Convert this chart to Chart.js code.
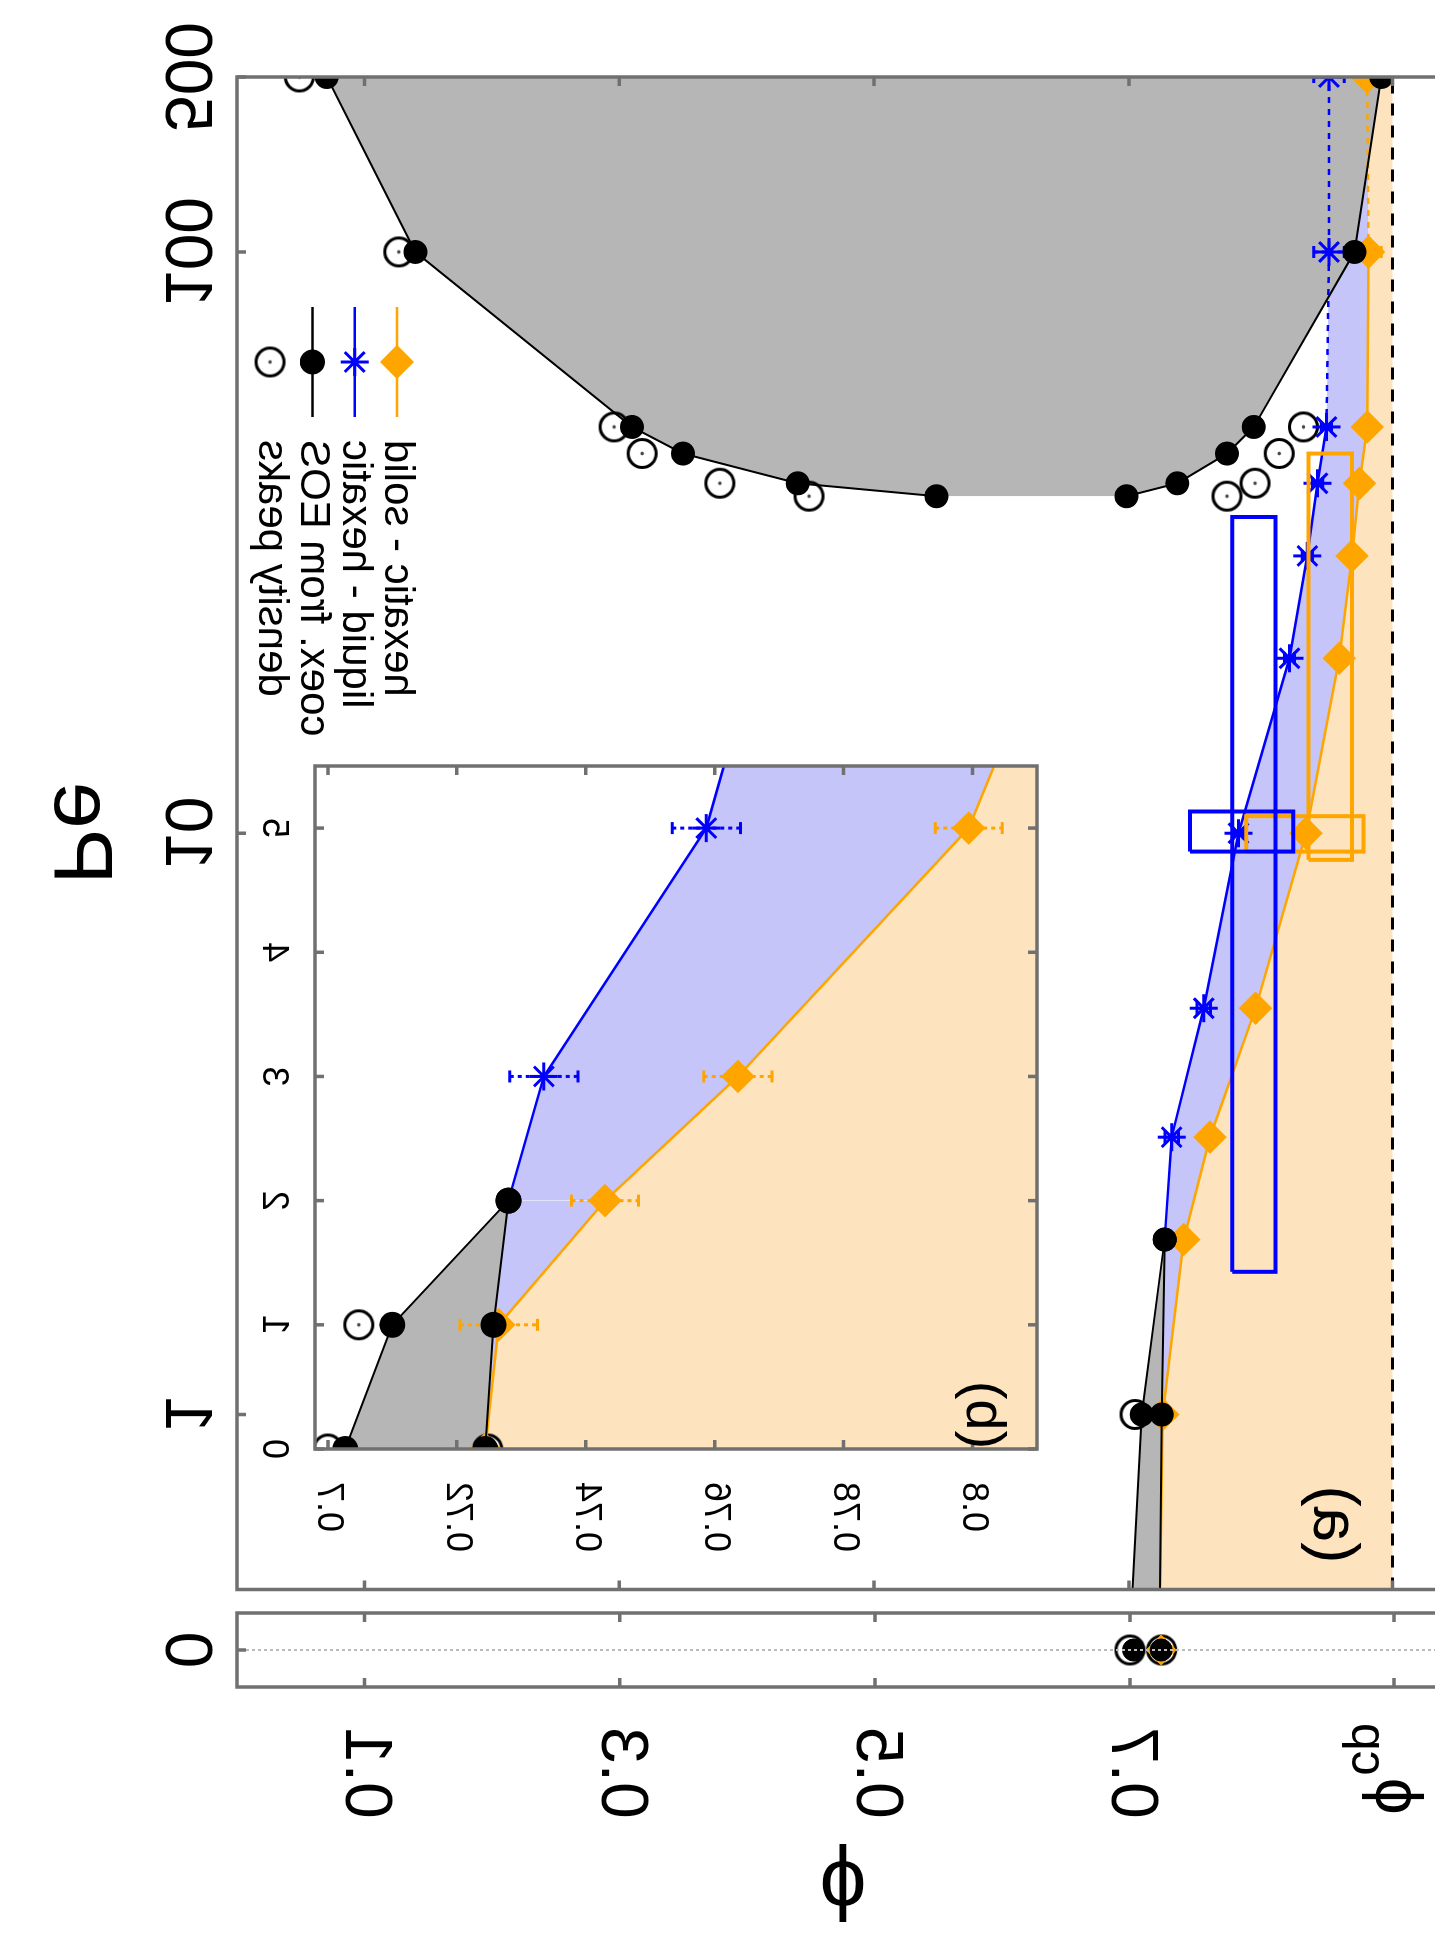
<!DOCTYPE html>
<html>
<head>
<meta charset="utf-8">
<script src="https://cdn.jsdelivr.net/npm/chart.js@4.4.0/dist/chart.umd.min.js"></script>
<style>
html, body { margin: 0; padding: 0; width: 1435px; height: 1937px; overflow: hidden; background: #fff; }
/* the figure is drawn upright and then mirrored across the anti-diagonal, as in the reference */
#fig { position: absolute; left: 0; top: 0; width: 1937px; height: 1435px; overflow: hidden;
       transform-origin: 0 0; transform: matrix(0, -1, -1, 0, 1435, 1937); }
#fig canvas { position: absolute; }
</style>
</head>
<body>
<div id="fig">
  <canvas id="pe0" width="340" height="1465" style="left:0px;top:-30px"></canvas>
  <canvas id="main" width="1607" height="1465" style="left:330px;top:-30px"></canvas>
  <canvas id="inset" width="820" height="900" style="left:380px;top:330px"></canvas>
</div>
<script>
// ---- data (x = Pe, y = phi) ----
const peSeries = [0, 1, 2, 3, 5, 10, 20, 30, 40, 50, 100, 500];
const phiHexSolid = [0.7244, 0.7265, 0.743, 0.7636, 0.7994, 0.839, 0.865, 0.875, 0.881, 0.887, 0.888, 0.887];
const errHexSolid = [0, 0.006, 0.0052, 0.0053, 0.0052, 0.004, 0.003, 0.003, 0.003, 0.003, 0.01, 0.008];
const phiLiqHex = [0.7244, 0.7257, 0.728, 0.7335, 0.7587, 0.786, 0.826, 0.840, 0.848, 0.855, 0.857, 0.857];
const errLiqHex = [0, 0, 0, 0.0053, 0.0053, 0.004, 0.004, 0.004, 0.004, 0.004, 0.012, 0.012];

const peCoexLow = [0, 1, 2];
const phiCoexGasLow = [0.7027, 0.710, 0.728];
const phiCoexLiqLow = [0.7244, 0.7257, 0.728];
const peMips = [38, 40, 45, 50, 100, 500];
const phiMipsGas = [0.549, 0.440, 0.350, 0.310, 0.140, 0.0705];
const phiMipsDense = [0.698, 0.738, 0.777, 0.798, 0.877, 0.898];

const pePeaksGas = [0, 1, 38, 40, 45, 50, 100, 500];
const phiPeaksGas = [0.700, 0.7048, 0.449, 0.379, 0.318, 0.296, 0.127, 0.049];
const pePeaksDense = [0, 38, 40, 45, 50];
const phiPeaksDense = [0.7248, 0.777, 0.799, 0.818, 0.837];

// boxes: [phi min, phi max, Pe min, Pe max]
const boxesLiqHex = [[0.781, 0.815, 1.76, 35], [0.748, 0.829, 9.3, 10.9]];
const boxesHexSolid = [[0.841, 0.875, 9.0, 45], [0.792, 0.884, 9.3, 10.7]];

const phiCp = 0.9069;
const phiTicks = [0.1, 0.3, 0.5, 0.7, phiCp];
const phiTickLabels = ['0.1', '0.3', '0.5', '0.7', ''];
const peTicks = [1, 10, 100, 500];
const insetPeTicks = [0, 1, 2, 3, 4, 5];
const insetPhiTicks = [0.7, 0.72, 0.74, 0.76, 0.78, 0.8];

// ---- helpers ----
const FONT = '"Liberation Sans", Arial, Helvetica, sans-serif';
Chart.defaults.font.family = FONT;
Chart.defaults.color = '#000';
const orange = '#ffa500', blue = '#0000ff';
const fillOrange = '#fde4bf', fillBlue = '#c5c5fa', fillGray = '#b6b6b6';

const peFloor = 0.5; // Pe = 0 rows meet the log axis at its lower end
const mainX = pe => {
  const p = Math.max(pe, peFloor);
  return p <= 100 ? Math.log10(p) : 2 + Math.log10(2) * (p - 100) / 400;
};
const linX = pe => pe;
const toPts = (pes, phis, fx) => pes.map((p, i) => ({ x: fx(p), y: phis[i] }));
const radii = (pes, r, test) => pes.map(p => test(p) ? r : 0);

function ringDot(r, lw) {
  const s = Math.ceil(2 * r + lw + 2);
  const c = document.createElement('canvas');
  c.width = c.height = s;
  const g = c.getContext('2d');
  g.beginPath(); g.arc(s / 2, s / 2, r, 0, Math.PI * 2);
  g.fillStyle = '#fff'; g.fill();
  g.lineWidth = lw; g.strokeStyle = '#000'; g.stroke();
  g.beginPath(); g.arc(s / 2, s / 2, 1.8, 0, Math.PI * 2);
  g.fillStyle = '#444'; g.fill();
  return c;
}
const ring = ringDot(14, 3);

function boxSets(boxes, color, fx) {
  return boxes.map(b => ({
    data: toPts([b[2], b[3], b[3], b[2], b[2]], [b[0], b[0], b[1], b[1], b[0]], fx),
    showLine: true, borderColor: color, borderWidth: 4, pointRadius: 0, fill: false, order: 1
  }));
}

// fixed axis sizes so the panels line up, no extra label padding
const fixH = h => s => { s.height = h; s.paddingLeft = 0; s.paddingRight = 0; };
const fixW = w => s => { s.width = w; s.paddingTop = 0; s.paddingBottom = 0; };

// ---- plugins ----
const framePlugin = {
  id: 'frame',
  beforeDraw(chart, args, o) {
    if (!o.background) return;
    const { ctx, chartArea: a } = chart;
    ctx.save(); ctx.fillStyle = o.background;
    ctx.fillRect(a.left, a.top, a.right - a.left, a.bottom - a.top);
    ctx.restore();
  },
  afterDatasetsDraw(chart, args, o) {
    const { ctx, chartArea: a, scales: { x, y } } = chart;
    ctx.save();
    if (o.zeroLine) {
      const px = x.getPixelForValue(0);
      ctx.strokeStyle = '#bbb'; ctx.lineWidth = 2; ctx.setLineDash([3, 3]);
      ctx.beginPath(); ctx.moveTo(px, a.top); ctx.lineTo(px, a.bottom); ctx.stroke();
      ctx.setLineDash([]);
    }
    ctx.strokeStyle = o.color; ctx.lineWidth = o.width;
    ctx.strokeRect(a.left, a.top, a.right - a.left, a.bottom - a.top);
    const t = o.tick;
    ctx.beginPath();
    x.ticks.forEach(k => {
      const px = x.getPixelForValue(k.value);
      ctx.moveTo(px, a.bottom); ctx.lineTo(px, a.bottom - t);
      ctx.moveTo(px, a.top); ctx.lineTo(px, a.top + t);
    });
    y.ticks.forEach(k => {
      const py = y.getPixelForValue(k.value);
      ctx.moveTo(a.left, py); ctx.lineTo(a.left + t, py);
      ctx.moveTo(a.right, py); ctx.lineTo(a.right - t, py);
    });
    ctx.stroke();
    ctx.restore();
  }
};

const errorBarPlugin = {
  id: 'errorBars',
  beforeDatasetsDraw(chart) {
    const { ctx, chartArea: a, scales: { x, y } } = chart;
    ctx.save();
    ctx.beginPath(); ctx.rect(a.left, a.top, a.right - a.left, a.bottom - a.top); ctx.clip();
    chart.data.datasets.forEach(ds => {
      if (!ds.errorBars) return;
      ctx.strokeStyle = ds.borderColor; ctx.lineWidth = 3;
      ds.data.forEach((p, j) => {
        const e = ds.errorBars[j];
        if (!e || !ds.pointRadius[j]) return;
        const px = x.getPixelForValue(p.x);
        const y1 = y.getPixelForValue(p.y - e), y2 = y.getPixelForValue(p.y + e);
        ctx.setLineDash([4, 4]);
        ctx.beginPath(); ctx.moveTo(px, y1); ctx.lineTo(px, y2); ctx.stroke();
        ctx.setLineDash([]);
        ctx.beginPath();
        ctx.moveTo(px - 6, y1); ctx.lineTo(px + 6, y1);
        ctx.moveTo(px - 6, y2); ctx.lineTo(px + 6, y2);
        ctx.stroke();
      });
    });
    ctx.restore();
  }
};

const labelPlugin = {
  id: 'panelLabel',
  afterDraw(chart, args, o) {
    if (!o.text) return;
    const { ctx, chartArea: a } = chart;
    ctx.save();
    ctx.font = o.size + 'px ' + FONT; ctx.fillStyle = '#000';
    ctx.textAlign = 'center'; ctx.textBaseline = 'middle';
    ctx.fillText(o.text, a.left + o.dx, a.top + o.dy);
    ctx.restore();
  }
};

const legendRows = [
  { text: 'hexatic - solid', color: orange, style: 'rectRot', r: 15, line: true },
  { text: 'liquid - hexatic', color: blue, style: 'star', r: 14, line: true },
  { text: 'coex. from EOS', color: '#000', style: 'circle', r: 11, line: true },
  { text: 'density peaks', color: '#000', style: ring, r: 14, line: false }
];
const keyPlugin = {
  id: 'key',
  afterDatasetsDraw(chart) {
    const { ctx, chartArea: a } = chart;
    ctx.save();
    ctx.font = '42px ' + FONT; ctx.textAlign = 'right'; ctx.textBaseline = 'middle';
    legendRows.forEach((row, i) => {
      const yy = a.bottom - 160 + i * 42.3;
      ctx.fillStyle = '#000';
      ctx.fillText(row.text, a.right - 363, yy);
      if (row.line) {
        ctx.strokeStyle = row.color; ctx.lineWidth = 2.5;
        ctx.beginPath(); ctx.moveTo(a.right - 340, yy); ctx.lineTo(a.right - 230, yy); ctx.stroke();
      }
      ctx.fillStyle = row.color; ctx.strokeStyle = row.color; ctx.lineWidth = 3;
      Chart.helpers.drawPoint(ctx, { pointStyle: row.style, radius: row.r, rotation: 0, borderWidth: 3 }, a.right - 285, yy);
    });
    ctx.restore();
  }
};

const cpPlugin = {
  id: 'cpLabel',
  afterDraw(chart) {
    const { ctx, scales: { y } } = chart;
    const py = y.getPixelForValue(phiCp);
    const right = y.right - 36;
    ctx.save();
    ctx.fillStyle = '#000'; ctx.textBaseline = 'middle'; ctx.textAlign = 'right';
    ctx.font = '50px ' + FONT;
    ctx.fillText('cp', right, py + 28);
    const w = ctx.measureText('cp').width;
    ctx.font = '66px ' + FONT;
    ctx.fillText('ϕ', right - w - 2, py);
    ctx.restore();
  }
};

const noGrid = { display: false, drawTicks: false };
const frameOpts = { color: '#707070', width: 3.5, tick: 9 };
const baseOpts = {
  responsive: false, animation: false, events: [],
  plugins: { legend: { display: false }, tooltip: { enabled: false }, filler: { drawTime: 'beforeDatasetsDraw' } }
};

// ---- main panel (log Pe) ----
const showMain = p => p > 0;
const mainSets = [
  { data: toPts(peSeries, peSeries.map(() => phiCp), mainX), showLine: true, borderColor: '#000',
    borderWidth: 3, borderDash: [12, 10], pointRadius: 0, order: 20 },
  { data: toPts(peSeries, phiHexSolid, mainX), showLine: true, borderColor: orange, borderWidth: 2.5,
    fill: { target: 0, above: fillOrange, below: fillOrange },
    pointStyle: 'rectRot', pointRadius: radii(peSeries, 15, showMain), pointBackgroundColor: orange,
    pointBorderColor: orange, errorBars: errHexSolid, order: 5,
    segment: { borderDash: c => c.p0DataIndex >= 10 ? [6, 6] : undefined } },
  { data: toPts(peSeries, phiLiqHex, mainX), showLine: true, borderColor: blue, borderWidth: 2.5,
    fill: { target: 1, above: fillBlue, below: fillBlue },
    pointStyle: 'star', pointRadius: radii(peSeries, 14, p => p >= 3), pointBorderColor: blue,
    pointBorderWidth: 3, errorBars: errLiqHex, order: 4,
    segment: { borderColor: c => c.p1DataIndex <= 2 ? 'rgba(0,0,0,0)' : undefined,
               borderDash: c => c.p0DataIndex >= 9 ? [6, 6] : undefined } },
  { data: toPts(peMips, phiMipsGas, mainX), showLine: true, borderColor: '#000', borderWidth: 2,
    fill: { target: 4, above: fillGray, below: fillGray },
    pointRadius: 11, pointBackgroundColor: '#000', pointBorderColor: '#000', order: 3 },
  { data: toPts(peMips, phiMipsDense, mainX), showLine: true, borderColor: '#000', borderWidth: 2,
    pointRadius: 11, pointBackgroundColor: '#000', pointBorderColor: '#000', order: 3 },
  { data: toPts(peCoexLow, phiCoexGasLow, mainX), showLine: true, borderColor: '#000', borderWidth: 2,
    fill: { target: 6, above: fillGray, below: fillGray },
    pointRadius: radii(peCoexLow, 11, showMain), pointBackgroundColor: '#000', pointBorderColor: '#000', order: 3 },
  { data: toPts(peCoexLow, phiCoexLiqLow, mainX), showLine: true, borderColor: '#000', borderWidth: 2,
    pointRadius: radii(peCoexLow, 11, showMain), pointBackgroundColor: '#000', pointBorderColor: '#000', order: 3 },
  { data: toPts(pePeaksGas, phiPeaksGas, mainX), pointStyle: ring, pointRadius: radii(pePeaksGas, 14, showMain), order: 6 },
  { data: toPts(pePeaksDense, phiPeaksDense, mainX), pointStyle: ring, pointRadius: radii(pePeaksDense, 14, showMain), order: 6 },
  ...boxSets(boxesLiqHex, blue, mainX),
  ...boxSets(boxesHexSolid, orange, mainX)
];

new Chart(document.getElementById('main'), {
  type: 'scatter',
  data: { datasets: mainSets },
  options: {
    ...baseOpts,
    layout: { padding: { left: 17, right: 77, top: 16, bottom: 0 } },
    plugins: { ...baseOpts.plugins, frame: frameOpts, panelLabel: { text: '(a)', size: 64, dx: 65, dy: 116 } },
    scales: {
      x: { type: 'linear', min: mainX(peFloor), max: mainX(500),
           afterBuildTicks: s => { s.ticks = peTicks.map(v => ({ value: mainX(v) })); },
           afterFit: fixH(237),
           grid: noGrid, border: { display: false },
           ticks: { font: { size: 66 }, padding: 13, maxRotation: 0, autoSkip: false,
                    callback: (v, i) => String(peTicks[i]) },
           title: { display: true, text: 'Pe', font: { size: 84 }, padding: { top: 28, bottom: 28 } } },
      y: { type: 'linear', min: 0, max: 0.95,
           afterBuildTicks: s => { s.ticks = phiTicks.map(v => ({ value: v })); },
           afterFit: fixW(0),
           grid: noGrid, border: { display: false }, ticks: { display: false } }
    }
  },
  plugins: [framePlugin, errorBarPlugin, labelPlugin, keyPlugin]
});

// ---- Pe = 0 panel ----
const at0 = (pes, phis) => pes.map((p, i) => ({ p, y: phis[i] })).filter(d => d.p === 0).map(d => ({ x: 0, y: d.y }));
new Chart(document.getElementById('pe0'), {
  type: 'scatter',
  data: { datasets: [
    { data: at0(peSeries, phiHexSolid), pointStyle: 'rectRot', pointRadius: 15, pointBackgroundColor: orange, pointBorderColor: orange, order: 5 },
    { data: at0(pePeaksGas, phiPeaksGas).concat(at0(pePeaksDense, phiPeaksDense)), pointStyle: ring, pointRadius: 14, order: 6 },
    { data: at0(peCoexLow, phiCoexGasLow).concat(at0(peCoexLow, phiCoexLiqLow)), pointRadius: 11,
      pointBackgroundColor: '#000', pointBorderColor: '#000', order: 3 }
  ] },
  options: {
    ...baseOpts,
    layout: { padding: { left: 0, right: 15, top: 16, bottom: 0 } },
    plugins: { ...baseOpts.plugins, frame: { ...frameOpts, zeroLine: true } },
    scales: {
      x: { type: 'linear', min: -1, max: 1,
           afterBuildTicks: s => { s.ticks = [{ value: 0 }]; },
           afterFit: fixH(237),
           grid: noGrid, border: { display: false },
           ticks: { font: { size: 66 }, padding: 13, maxRotation: 0, callback: () => '0' } },
      y: { type: 'linear', min: 0, max: 0.95,
           afterBuildTicks: s => { s.ticks = phiTicks.map(v => ({ value: v })); },
           afterFit: fixW(250),
           grid: noGrid, border: { display: false },
           ticks: { font: { size: 66 }, padding: 40, autoSkip: false, callback: (v, i) => phiTickLabels[i] },
           title: { display: true, text: 'ϕ', font: { size: 84 }, padding: { top: 2, bottom: 2 } } }
    }
  },
  plugins: [framePlugin, cpPlugin]
});

// ---- inset (linear Pe, zoom on low activity) ----
const inInset = p => p <= 5.5;
const insetPe = peSeries.filter(p => p <= 10);
const cut = arr => arr.slice(0, insetPe.length);
new Chart(document.getElementById('inset'), {
  type: 'scatter',
  data: { datasets: [
    { data: toPts(insetPe, cut(phiHexSolid), linX), showLine: true, borderColor: orange, borderWidth: 2.5,
      fill: { target: 'end', above: fillOrange, below: fillOrange },
      pointStyle: 'rectRot', pointRadius: radii(insetPe, 15, inInset), pointBackgroundColor: orange,
      pointBorderColor: orange, errorBars: cut(errHexSolid), order: 5 },
    { data: toPts(insetPe, cut(phiLiqHex), linX), showLine: true, borderColor: blue, borderWidth: 2.5,
      fill: { target: 0, above: fillBlue, below: fillBlue },
      pointStyle: 'star', pointRadius: radii(insetPe, 14, p => p >= 3 && p <= 5.5), pointBorderColor: blue,
      pointBorderWidth: 3, errorBars: cut(errLiqHex), order: 4,
      segment: { borderColor: c => c.p1DataIndex <= 2 ? 'rgba(0,0,0,0)' : undefined } },
    { data: toPts(peCoexLow, phiCoexGasLow, linX), showLine: true, borderColor: '#000', borderWidth: 2,
      fill: { target: 3, above: fillGray, below: fillGray },
      pointRadius: 12, pointBackgroundColor: '#000', pointBorderColor: '#000', order: 3 },
    { data: toPts(peCoexLow, phiCoexLiqLow, linX), showLine: true, borderColor: '#000', borderWidth: 2,
      pointRadius: 12, pointBackgroundColor: '#000', pointBorderColor: '#000', order: 3 },
    { data: toPts(pePeaksGas, phiPeaksGas, linX), pointStyle: ring, pointRadius: radii(pePeaksGas, 14, inInset), order: 6 },
    { data: toPts(pePeaksDense, phiPeaksDense, linX), pointStyle: ring, pointRadius: radii(pePeaksDense, 14, inInset), order: 6 }
  ] },
  options: {
    ...baseOpts,
    layout: { padding: { left: 0, right: 29, top: 68, bottom: 0 } },
    plugins: { ...baseOpts.plugins, frame: { ...frameOpts, background: '#fff' },
               panelLabel: { text: '(b)', size: 56, dx: 34, dy: 55 } },
    scales: {
      x: { type: 'linear', min: 0, max: 5.5,
           afterBuildTicks: s => { s.ticks = insetPeTicks.map(v => ({ value: v })); },
           afterFit: fixH(110),
           grid: noGrid, border: { display: false },
           ticks: { font: { size: 36 }, padding: 20, maxRotation: 0, autoSkip: false,
                    callback: (v, i) => String(insetPeTicks[i]) } },
      y: { type: 'linear', min: 0.698, max: 0.81,
           afterBuildTicks: s => { s.ticks = insetPhiTicks.map(v => ({ value: v })); },
           afterFit: fixW(108),
           grid: noGrid, border: { display: false },
           ticks: { font: { size: 36 }, padding: 33, autoSkip: false,
                    callback: (v, i) => String(insetPhiTicks[i]) } }
    }
  },
  plugins: [framePlugin, errorBarPlugin, labelPlugin]
});
</script>
</body>
</html>
